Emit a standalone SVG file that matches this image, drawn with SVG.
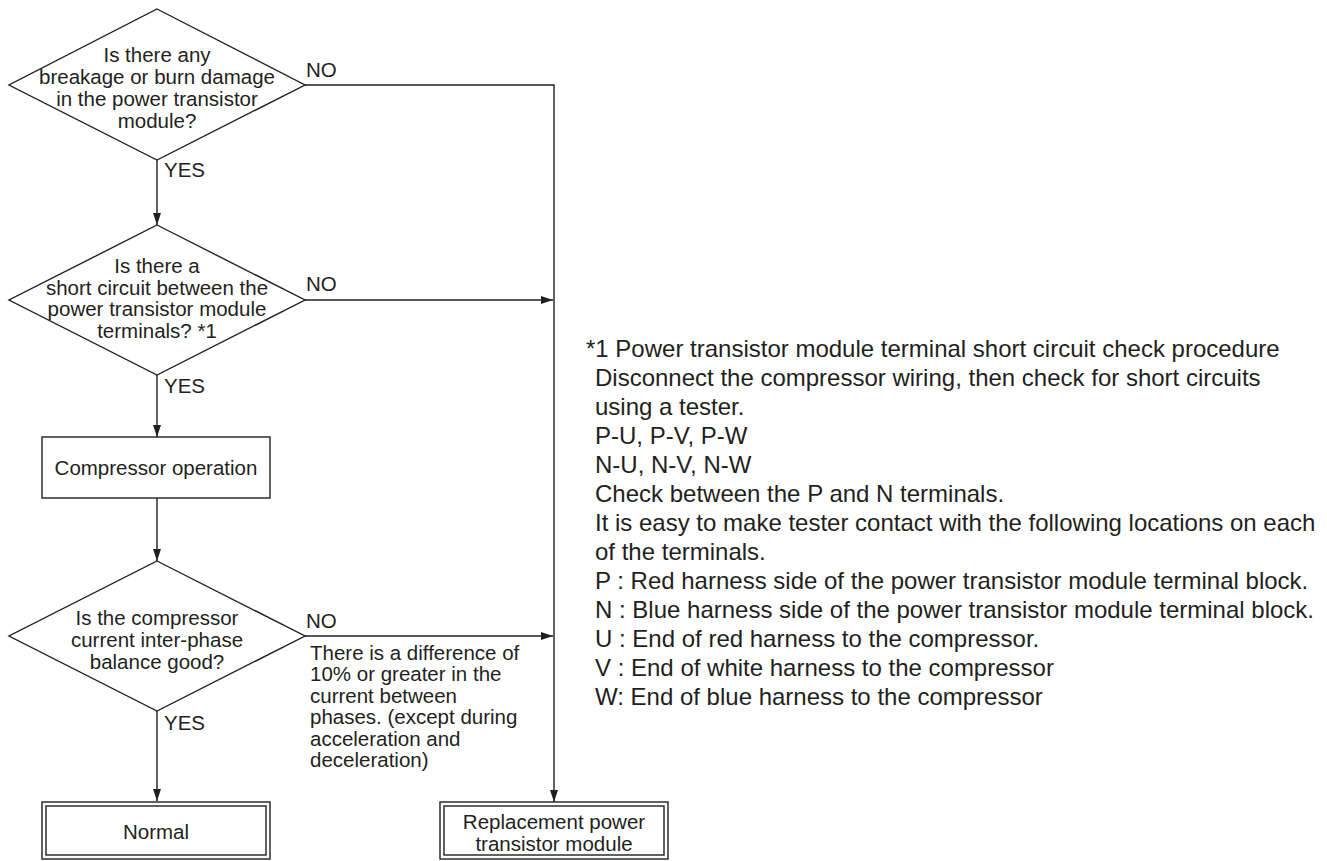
<svg xmlns="http://www.w3.org/2000/svg" width="1327" height="861" viewBox="0 0 1327 861">
<style>
.shape{fill:#ffffff;stroke:#231f20;stroke-width:1.4}
.line{fill:none;stroke:#231f20;stroke-width:1.4}
.t{font-family:"Liberation Sans",Arial,Helvetica,sans-serif;font-size:20.5px;fill:#231f20}
.c{text-anchor:middle}
.note{font-family:"Liberation Sans",Arial,Helvetica,sans-serif;font-size:24px;fill:#231f20}
</style>
<defs>
<marker id="arr" markerWidth="12" markerHeight="8" refX="12" refY="4" orient="auto" markerUnits="userSpaceOnUse">
<path d="M0,0 L12,4 L0,8 Z" fill="#231f20"/>
</marker>
</defs>
<rect width="1327" height="861" fill="#ffffff"/>

<g id="connectors">
<line class="line" x1="157" y1="160" x2="157" y2="225" marker-end="url(#arr)"/>
<line class="line" x1="157" y1="375" x2="157" y2="437" marker-end="url(#arr)"/>
<line class="line" x1="157" y1="498" x2="157" y2="561" marker-end="url(#arr)"/>
<line class="line" x1="157" y1="711" x2="157" y2="801" marker-end="url(#arr)"/>
<polyline class="line" points="305,85 554,85 554,802" marker-end="url(#arr)"/>
<line class="line" x1="305" y1="300" x2="553" y2="300" marker-end="url(#arr)"/>
<line class="line" x1="305" y1="636" x2="553" y2="636" marker-end="url(#arr)"/>
<text class="t" x="306" y="77">NO</text>
<text class="t" x="164" y="177">YES</text>
<text class="t" x="306" y="291">NO</text>
<text class="t" x="164" y="393">YES</text>
<text class="t" x="306" y="628">NO</text>
<text class="t" x="164" y="730">YES</text>
<text class="t" x="310" y="660">There is a difference of</text>
<text class="t" x="310" y="681">10% or greater in the</text>
<text class="t" x="310" y="703">current between</text>
<text class="t" x="310" y="724">phases. (except during</text>
<text class="t" x="310" y="746">acceleration and</text>
<text class="t" x="310" y="767">deceleration)</text>
</g>

<g id="q1">
<polygon class="shape" points="157,9 305,85 157,160 9,85"/>
<text class="t c" x="157" y="62">Is there any</text>
<text class="t c" x="157" y="84">breakage or burn damage</text>
<text class="t c" x="157" y="106">in the power transistor</text>
<text class="t c" x="157" y="128">module?</text>
</g>

<g id="q2">
<polygon class="shape" points="157,225 305,300 157,375 9,300"/>
<text class="t c" x="157" y="273">Is there a</text>
<text class="t c" x="157" y="295">short circuit between the</text>
<text class="t c" x="157" y="316">power transistor module</text>
<text class="t c" x="157" y="338">terminals? *1</text>
</g>

<g id="compressor-operation">
<rect class="shape" x="42" y="437" width="228" height="61"/>
<text class="t c" x="156" y="475">Compressor operation</text>
</g>

<g id="q3">
<polygon class="shape" points="157,561 305,636 157,711 9,636"/>
<text class="t c" x="157" y="625">Is the compressor</text>
<text class="t c" x="157" y="647">current inter-phase</text>
<text class="t c" x="157" y="669">balance good?</text>
</g>

<g id="normal">
<rect class="shape" x="42" y="802" width="228" height="57"/>
<rect class="shape" x="46" y="806" width="220" height="49"/>
<text class="t c" x="156" y="839">Normal</text>
</g>

<g id="replacement">
<rect class="shape" x="440" y="802" width="228" height="57"/>
<rect class="shape" x="444" y="806" width="220" height="49"/>
<text class="t c" x="554" y="829">Replacement power</text>
<text class="t c" x="554" y="851">transistor module</text>
</g>

<g id="note">
<text class="note" x="586" y="357">*1 Power transistor module terminal short circuit check procedure</text>
<text class="note" x="595" y="386">Disconnect the compressor wiring, then check for short circuits</text>
<text class="note" x="595" y="415">using a tester.</text>
<text class="note" x="595" y="444">P-U, P-V, P-W</text>
<text class="note" x="595" y="473">N-U, N-V, N-W</text>
<text class="note" x="595" y="502">Check between the P and N terminals.</text>
<text class="note" x="595" y="531">It is easy to make tester contact with the following locations on each</text>
<text class="note" x="595" y="560">of the terminals.</text>
<text class="note" x="595" y="589">P : Red harness side of the power transistor module terminal block.</text>
<text class="note" x="595" y="618">N : Blue harness side of the power transistor module terminal block.</text>
<text class="note" x="595" y="647">U : End of red harness to the compressor.</text>
<text class="note" x="595" y="676">V : End of white harness to the compressor</text>
<text class="note" x="595" y="705">W: End of blue harness to the compressor</text>
</g>
</svg>
